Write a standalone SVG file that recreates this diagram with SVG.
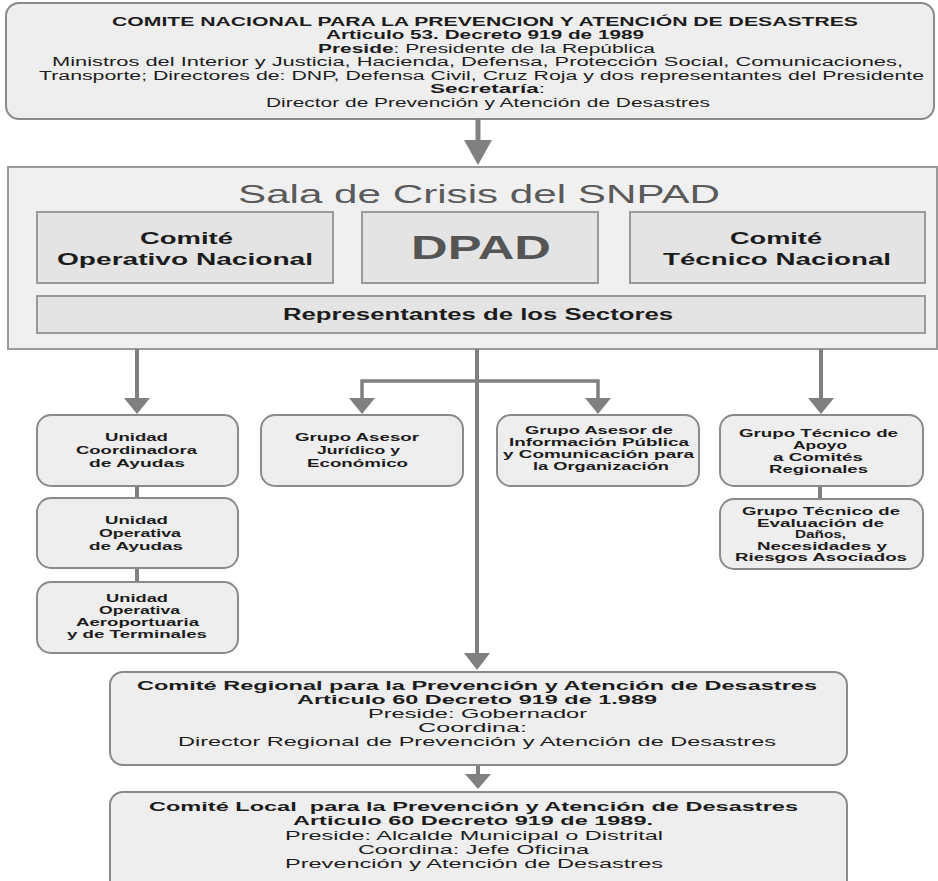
<svg xmlns="http://www.w3.org/2000/svg" width="938" height="881" viewBox="0 0 938 881">
  <style>
    text { font-family: "Liberation Sans", Arial, sans-serif; fill: #1c1c1c; }
    .b { font-weight: bold; }
    .top { font-size: 12.5px; }
    .mid { font-size: 13.5px; }
    .sm { font-size: 11.5px; font-weight: bold; }
    .xs { font-size: 11px; font-weight: bold; }
    .card { fill: #eeeeee; stroke: #8a8a8a; stroke-width: 2; }
    .panel { fill: #f0f0f0; stroke: #9a9a9a; stroke-width: 2; }
    .cell { fill: #e4e4e4; stroke: #9a9a9a; stroke-width: 2; }
    .cell-t { font-size: 16px; font-weight: bold; }
    .wire { stroke: #808080; stroke-width: 4; fill: none; }
    .head { fill: #808080; }
  </style>

  <!-- national committee -->
  <g id="comite-nacional">
    <rect class="card" x="6" y="3" width="928" height="116" rx="13"/>
    <text class="top b" x="112" y="25.5" textLength="746" lengthAdjust="spacingAndGlyphs">COMITE NACIONAL PARA LA PREVENCION Y ATENCIÓN DE DESASTRES</text>
    <text class="top b" x="326" y="39" textLength="318" lengthAdjust="spacingAndGlyphs">Articulo 53. Decreto 919 de 1989</text>
    <text class="top" x="318" y="52.5" textLength="337" lengthAdjust="spacingAndGlyphs"><tspan class="b">Preside</tspan>: Presidente de la República</text>
    <text class="top" x="52" y="66" textLength="851" lengthAdjust="spacingAndGlyphs">Ministros del Interior y Justicia, Hacienda, Defensa, Protección Social, Comunicaciones,</text>
    <text class="top" x="39" y="79.5" textLength="885" lengthAdjust="spacingAndGlyphs">Transporte; Directores de: DNP, Defensa Civil, Cruz Roja y dos representantes del Presidente</text>
    <text class="top" x="430" y="93" textLength="115" lengthAdjust="spacingAndGlyphs"><tspan class="b">Secretaría</tspan>:</text>
    <text class="top" x="266" y="106.5" textLength="444" lengthAdjust="spacingAndGlyphs">Director de Prevención y Atención de Desastres</text>
  </g>

  <!-- crisis room -->
  <g id="sala-crisis">
    <rect class="panel" x="8" y="167" width="929" height="182"/>
    <text x="238" y="203" font-size="26" style="fill:#5a5a5a" textLength="482" lengthAdjust="spacingAndGlyphs">Sala de Crisis del SNPAD</text>
  </g>
  <g id="comite-operativo">
    <rect class="cell" x="37" y="212" width="296" height="71"/>
    <text class="cell-t" x="140" y="244" textLength="93" lengthAdjust="spacingAndGlyphs">Comité</text>
    <text class="cell-t" x="57" y="265" textLength="256" lengthAdjust="spacingAndGlyphs">Operativo Nacional</text>
  </g>
  <g id="dpad">
    <rect class="cell" x="362" y="212" width="236" height="71"/>
    <text x="411" y="259" font-size="34" font-weight="bold" style="fill:#555555" textLength="140" lengthAdjust="spacingAndGlyphs">DPAD</text>
  </g>
  <g id="comite-tecnico">
    <rect class="cell" x="630" y="212" width="295" height="71"/>
    <text class="cell-t" x="730" y="244" textLength="92" lengthAdjust="spacingAndGlyphs">Comité</text>
    <text class="cell-t" x="663" y="265" textLength="228" lengthAdjust="spacingAndGlyphs">Técnico Nacional</text>
  </g>
  <g id="representantes">
    <rect class="cell" x="37" y="296" width="888" height="37"/>
    <text x="283" y="320" font-size="16" font-weight="bold" textLength="390" lengthAdjust="spacingAndGlyphs">Representantes de los Sectores</text>
  </g>

  <!-- connectors -->
  <g id="connectors">
    <line class="wire" x1="478" y1="119" x2="478" y2="142" style="stroke-width:5"/>
    <polygon class="head" points="464,140 492,140 478,165"/>

    <line class="wire" x1="137" y1="349" x2="137" y2="400"/>
    <polygon class="head" points="124,398 150,398 137,414"/>

    <line class="wire" x1="477" y1="349" x2="477" y2="655"/>
    <polygon class="head" points="464,653 490,653 477,670"/>

    <polyline class="wire" points="362,400 362,381 598,381 598,400" style="stroke-width:3.5"/>
    <polygon class="head" points="349,398 375,398 362,414"/>
    <polygon class="head" points="585,398 611,398 598,414"/>

    <line class="wire" x1="821" y1="349" x2="821" y2="400"/>
    <polygon class="head" points="808,398 834,398 821,414"/>

    <line class="wire" x1="137" y1="486" x2="137" y2="499"/>
    <line class="wire" x1="137" y1="568" x2="137" y2="583"/>
    <line class="wire" x1="820" y1="486" x2="820" y2="500"/>

    <line class="wire" x1="478" y1="765" x2="478" y2="776"/>
    <polygon class="head" points="465,774 491,774 478,789"/>
  </g>

  <!-- support units -->
  <g id="unidad-coordinadora">
    <rect class="card" x="37" y="415" width="201" height="71" rx="14"/>
    <text class="sm" x="105" y="441" textLength="63" lengthAdjust="spacingAndGlyphs">Unidad</text>
    <text class="sm" x="76" y="454" textLength="121" lengthAdjust="spacingAndGlyphs">Coordinadora</text>
    <text class="sm" x="89" y="467" textLength="96" lengthAdjust="spacingAndGlyphs">de Ayudas</text>
  </g>
  <g id="unidad-operativa">
    <rect class="card" x="37" y="498" width="201" height="70" rx="14"/>
    <text class="sm" x="105" y="524" textLength="63" lengthAdjust="spacingAndGlyphs">Unidad</text>
    <text class="sm" x="99" y="537" textLength="82" lengthAdjust="spacingAndGlyphs">Operativa</text>
    <text class="sm" x="89" y="550" textLength="94" lengthAdjust="spacingAndGlyphs">de Ayudas</text>
  </g>
  <g id="unidad-aeroportuaria">
    <rect class="card" x="37" y="582" width="201" height="71" rx="14"/>
    <text class="sm" x="106" y="602" textLength="62" lengthAdjust="spacingAndGlyphs">Unidad</text>
    <text class="sm" x="99" y="614" textLength="81" lengthAdjust="spacingAndGlyphs">Operativa</text>
    <text class="sm" x="76" y="626" textLength="123" lengthAdjust="spacingAndGlyphs">Aeroportuaria</text>
    <text class="sm" x="67" y="638" textLength="140" lengthAdjust="spacingAndGlyphs">y de Terminales</text>
  </g>
  <g id="grupo-juridico">
    <rect class="card" x="261" y="415" width="202" height="71" rx="14"/>
    <text class="sm" x="295" y="441" textLength="124" lengthAdjust="spacingAndGlyphs">Grupo Asesor</text>
    <text class="sm" x="317" y="454" textLength="83" lengthAdjust="spacingAndGlyphs">Jurídico y</text>
    <text class="sm" x="307" y="467" textLength="101" lengthAdjust="spacingAndGlyphs">Económico</text>
  </g>
  <g id="grupo-informacion">
    <rect class="card" x="497" y="415" width="202" height="71" rx="14"/>
    <text class="sm" x="525" y="434" textLength="148" lengthAdjust="spacingAndGlyphs">Grupo Asesor de</text>
    <text class="sm" x="509" y="446" textLength="180" lengthAdjust="spacingAndGlyphs">Información Pública</text>
    <text class="sm" x="503" y="458" textLength="191" lengthAdjust="spacingAndGlyphs">y Comunicación para</text>
    <text class="sm" x="533" y="470" textLength="136" lengthAdjust="spacingAndGlyphs">la Organización</text>
  </g>
  <g id="grupo-apoyo">
    <rect class="card" x="720" y="415" width="203" height="71" rx="14"/>
    <text class="sm" x="739" y="437" textLength="159" lengthAdjust="spacingAndGlyphs">Grupo Técnico de</text>
    <text class="sm" x="793" y="449" textLength="54" lengthAdjust="spacingAndGlyphs">Apoyo</text>
    <text class="sm" x="773" y="461" textLength="90" lengthAdjust="spacingAndGlyphs">a Comités</text>
    <text class="sm" x="769" y="473" textLength="99" lengthAdjust="spacingAndGlyphs">Regionales</text>
  </g>
  <g id="grupo-evaluacion">
    <rect class="card" x="720" y="499" width="203" height="70" rx="14"/>
    <text class="xs" x="742" y="515" textLength="158" lengthAdjust="spacingAndGlyphs">Grupo Técnico de</text>
    <text class="xs" x="757" y="526.5" textLength="127" lengthAdjust="spacingAndGlyphs">Evaluación de</text>
    <text class="xs" x="795" y="538" textLength="51" lengthAdjust="spacingAndGlyphs">Daños,</text>
    <text class="xs" x="757" y="549.5" textLength="130" lengthAdjust="spacingAndGlyphs">Necesidades y</text>
    <text class="xs" x="735" y="561" textLength="172" lengthAdjust="spacingAndGlyphs">Riesgos Asociados</text>
  </g>

  <!-- regional committee -->
  <g id="comite-regional">
    <rect class="card" x="110" y="672" width="737" height="93" rx="13"/>
    <text class="mid b" x="137" y="690" textLength="680" lengthAdjust="spacingAndGlyphs">Comité Regional para la Prevención y Atención de Desastres</text>
    <text class="mid b" x="297" y="704" textLength="360" lengthAdjust="spacingAndGlyphs">Articulo 60 Decreto 919 de 1.989</text>
    <text class="mid" x="368" y="718" textLength="219" lengthAdjust="spacingAndGlyphs">Preside: Gobernador</text>
    <text class="mid" x="418" y="732" textLength="109" lengthAdjust="spacingAndGlyphs">Coordina:</text>
    <text class="mid" x="178" y="746" textLength="598" lengthAdjust="spacingAndGlyphs">Director Regional de Prevención y Atención de Desastres</text>
  </g>

  <!-- local committee -->
  <g id="comite-local">
    <rect class="card" x="110" y="792" width="737" height="110" rx="13"/>
    <text class="mid b" x="149" y="811" textLength="649" lengthAdjust="spacingAndGlyphs" xml:space="preserve">Comité Local  para la Prevención y Atención de Desastres</text>
    <text class="mid b" x="293" y="825" textLength="360" lengthAdjust="spacingAndGlyphs">Articulo 60 Decreto 919 de 1989.</text>
    <text class="mid" x="285" y="839.5" textLength="378" lengthAdjust="spacingAndGlyphs">Preside: Alcalde Municipal o Distrital</text>
    <text class="mid" x="358" y="854" textLength="231" lengthAdjust="spacingAndGlyphs">Coordina: Jefe Oficina</text>
    <text class="mid" x="285" y="868" textLength="378" lengthAdjust="spacingAndGlyphs">Prevención y Atención de Desastres</text>
  </g>
</svg>
